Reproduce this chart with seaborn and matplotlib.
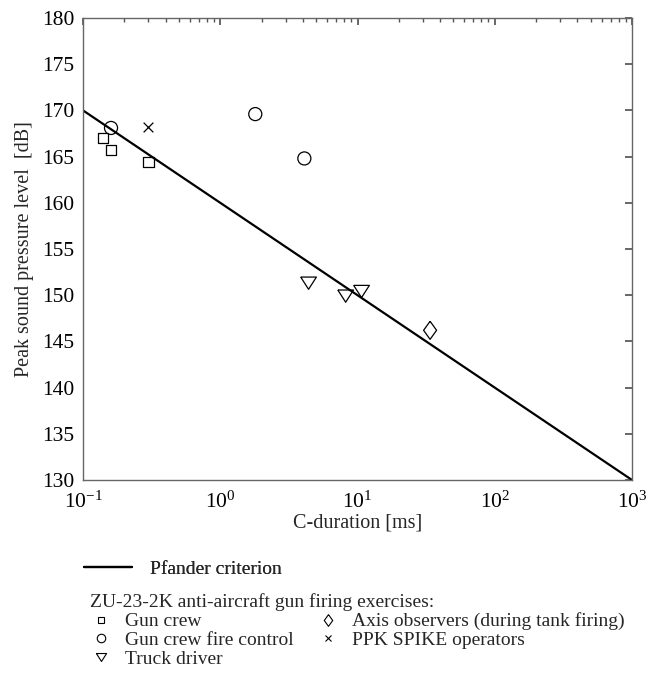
import matplotlib
matplotlib.use("Agg")
import matplotlib.pyplot as plt
import seaborn as sns
import numpy as np
import pandas as pd
from matplotlib.lines import Line2D

# ---- data ----
gun_crew_x = [0.14, 0.16, 0.30]
gun_crew_y = [167.0, 165.7, 164.4]
fire_ctrl_x = [0.16, 1.8, 4.1]
fire_ctrl_y = [168.1, 169.6, 164.8]
truck_x = [4.4, 8.2, 10.7]
truck_y = [151.3, 149.9, 150.4]
axis_obs_x = [33.8]
axis_obs_y = [146.2]
ppk_x = [0.30]
ppk_y = [168.2]
pfander_x = [0.1, 1000.0]
pfander_y = [170.0, 130.0]

groups = ["Gun crew", "Gun crew fire control", "Truck driver",
          "Axis observers (during tank firing)", "PPK SPIKE operators"]
xs = [gun_crew_x, fire_ctrl_x, truck_x, axis_obs_x, ppk_x]
ys = [gun_crew_y, fire_ctrl_y, truck_y, axis_obs_y, ppk_y]
y_ticks = [130, 135, 140, 145, 150, 155, 160, 165, 170, 175, 180]

df = pd.DataFrame({
    "x": [v for g in xs for v in g],
    "y": [v for g in ys for v in g],
    "group": [n for n, g in zip(groups, xs) for _ in g],
})
line_df = pd.DataFrame({"x": pfander_x, "y": pfander_y})

sns.set_theme(style="white")
plt.rcParams["font.family"] = ["Liberation Serif"]
plt.rcParams["mathtext.fontset"] = "custom"
plt.rcParams["mathtext.rm"] = "Liberation Serif"
plt.rcParams["mathtext.it"] = "Liberation Serif:italic"

tri = [(-1, 0.78), (1, 0.78), (0, -0.78), (-1, 0.78)]
dia = [(0, 1), (0.72, 0), (0, -1), (-0.72, 0), (0, 1)]
markers = {groups[0]: "s", groups[1]: "o", groups[2]: tri, groups[3]: dia, groups[4]: "x"}
sizes_pt = {groups[0]: 7.7, groups[1]: 9.4, groups[2]: 11.3, groups[3]: 13.0, groups[4]: 7.0}

fig = plt.figure(figsize=(6.57, 6.75), dpi=100)
ax = fig.add_axes([83 / 657, 1 - 480 / 675, (632 - 83) / 657, (480 - 18) / 675])

sns.lineplot(data=line_df, x="x", y="y", ax=ax, color="black", lw=1.6, legend=False)
for g in groups:
    sub = df[df.group == g]
    sns.scatterplot(data=sub, x="x", y="y", ax=ax, marker=markers[g],
                    s=sizes_pt[g] ** 2, facecolor="none" if g != groups[4] else "black",
                    edgecolor="black", color="black", linewidth=0.9, legend=False)

ax.set_xscale("log")
ax.set_xlim(0.1, 1000)
ax.set_ylim(130, 180)
ax.set_yticks(y_ticks)
ax.set_xlabel("C-duration [ms]", fontsize=14.5, labelpad=1)
ax.set_ylabel("Peak sound pressure level  [dB]", fontsize=14.5, labelpad=6)
ax.tick_params(axis="both", which="both", direction="in", top=True, right=True,
               labelsize=15.5, colors="#555555", labelcolor="black")
ax.tick_params(axis="y", pad=6)
ax.tick_params(axis="x", pad=8)
ax.tick_params(which="major", length=5)
ax.tick_params(which="minor", length=3)
for s in ax.spines.values():
    s.set_color("#666666")
    s.set_linewidth(1.0)

# legends below
h_line = Line2D([], [], color="black", lw=1.6)
leg1 = fig.legend([h_line], ["Pfander criterion"], loc="upper left",
                  bbox_to_anchor=(66 / 657, 1 - 543 / 675), frameon=False,
                  fontsize=14, handlelength=2.5, handletextpad=0.9)

hs = []
for g in groups:
    hs.append(Line2D([], [], ls="none", marker=markers[g], markersize=sizes_pt[g] * 0.65,
                     markerfacecolor="none" if g != groups[4] else "black",
                     markeredgecolor="black", markeredgewidth=0.8))
leg2 = fig.legend(hs, groups, loc="upper left", ncol=2,
                  bbox_to_anchor=(76 / 657, 1 - 580 / 675), frameon=False,
                  fontsize=14, title="ZU-23-2K anti-aircraft gun firing exercises:",
                  title_fontsize=14, alignment="left", handlelength=1.2,
                  handletextpad=0.6, labelspacing=0.05, columnspacing=1.2,
                  borderpad=0.2)
fig.add_artist(leg1)

fig.savefig("out.png", dpi=100)
